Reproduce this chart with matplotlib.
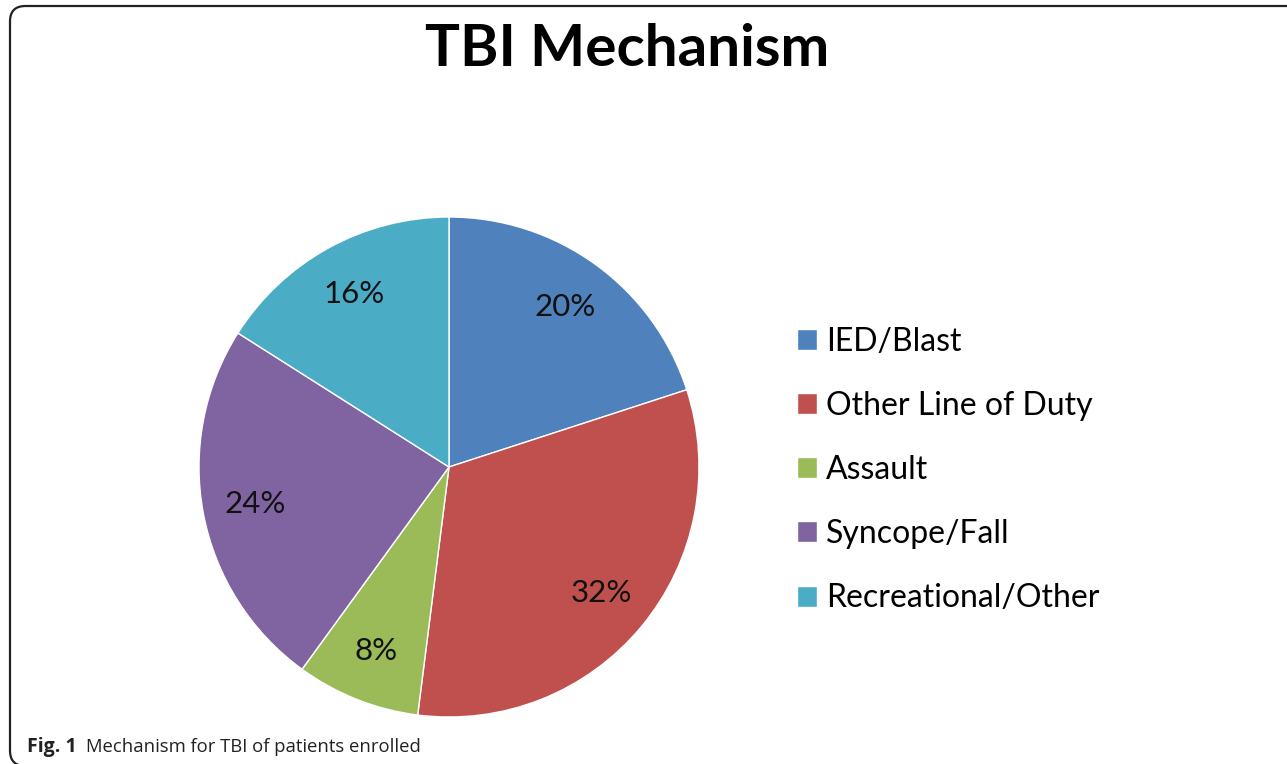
import matplotlib.pyplot as plt
from matplotlib.patches import FancyBboxPatch

labels = ["IED/Blast", "Other Line of Duty", "Assault", "Syncope/Fall", "Recreational/Other"]
shares = [20, 32, 8, 24, 16]
colors = ["#4F81BD", "#C0504D", "#9BBB59", "#8064A2", "#4BACC6"]

W, H = 1287, 764
fig = plt.figure(figsize=(W / 100, H / 100), dpi=100)

# rounded frame around the chart (bottom and right edges run off the image)
frame = FancyBboxPatch((10 / W, -2 / H), 1.2, (760) / H,
                       boxstyle="round,pad=0,rounding_size=0.012",
                       transform=fig.transFigure, fill=False,
                       edgecolor="#222222", linewidth=1.6,
                       mutation_aspect=W / H)
fig.patches.append(frame)

# pie axes: center (449, 467), radius 250 px
ax = fig.add_axes([199 / W, (H - 717) / H, 500 / W, 500 / H])
wedges, texts, autotexts = ax.pie(
    shares, colors=colors, startangle=90, counterclock=False,
    autopct="%d%%", pctdistance=0.79,
    wedgeprops=dict(edgecolor="white", linewidth=1),
    textprops=dict(fontsize=22.5, family="Lato", color="#111111"))
ax.set_aspect("equal")
ax.set_xlim(-1, 1)
ax.set_ylim(-1, 1)

fig.text(627 / W, (H - 49) / H, "TBI Mechanism", ha="center", va="center",
         fontsize=42, fontweight="bold", family="Lato")

fig.legend(wedges, labels, loc="center left",
           bbox_to_anchor=(797 / W, (H - 470) / H), frameon=False,
           prop=dict(family="Lato", size=23), borderpad=0, borderaxespad=0,
           handlelength=0.63, handleheight=0.63, handletextpad=0.28,
           labelspacing=1.07)

fig.text(27 / W, (H - 747) / H, "Fig. 1", ha="left", va="center",
         fontsize=14, fontweight="bold", family="Open Sans", color="#222222")
fig.text(86 / W, (H - 747) / H, "Mechanism for TBI of patients enrolled",
         ha="left", va="center", fontsize=13.3, family="Open Sans",
         color="#222222")

fig.savefig("out.png", dpi=100)
